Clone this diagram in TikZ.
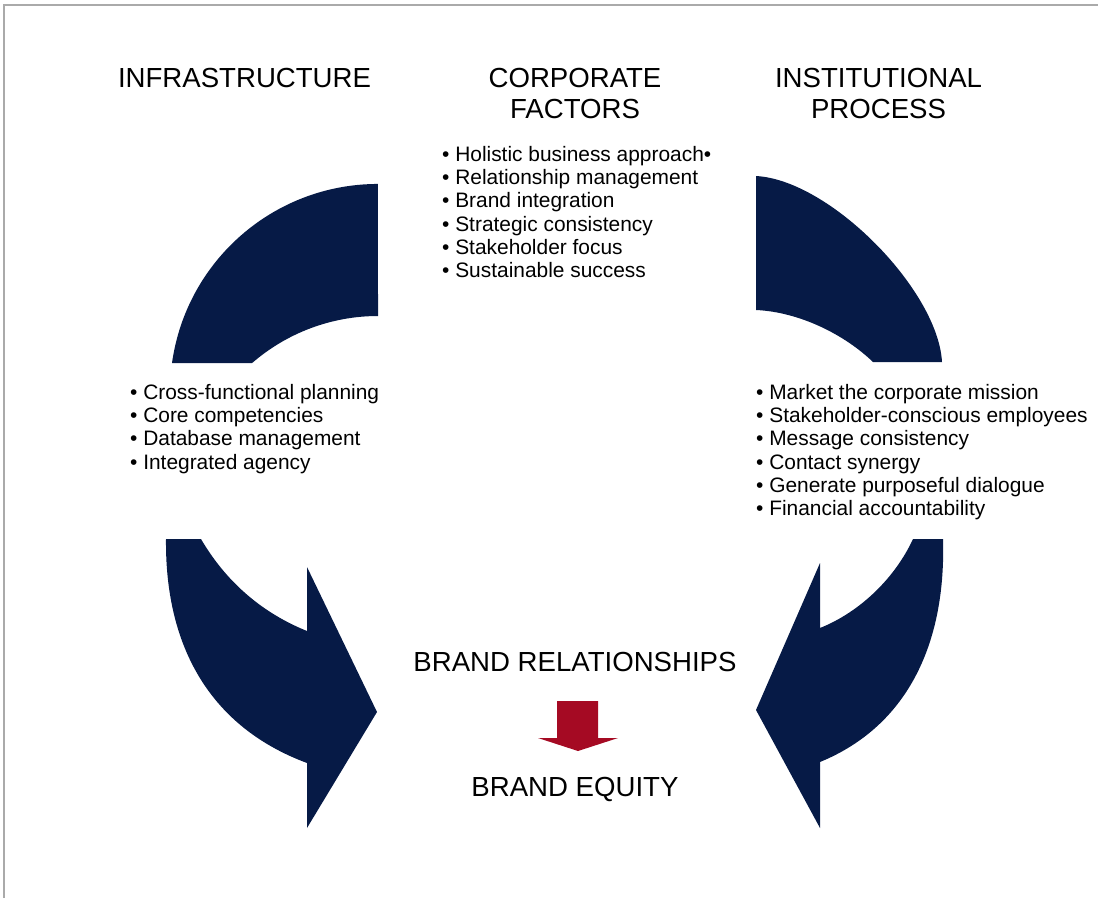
\documentclass[tikz,border=0pt]{standalone}
\usepackage{fontspec}
\setmainfont{Liberation Sans}
\definecolor{navy}{RGB}{6,26,70}
\definecolor{brandred}{RGB}{165,10,35}
\definecolor{framegray}{RGB}{170,170,170}
\begin{document}
\begin{tikzpicture}[x=1pt,y=-1pt,
  band/.style={fill=navy},
  heading/.style={font=\fontsize{27.6}{31}\selectfont, anchor=base, inner sep=0pt},
  bullets/.style={font=\fontsize{20.9}{23.3}\selectfont, align=left, anchor=north west, inner sep=0pt},
]
\useasboundingbox (0,0) rectangle (1098,898);
% frame
\draw[framegray, line width=1.2pt] (4,898) -- (4,5) -- (1098,5);

% upper left band (two circular arcs)
\fill[band] (172,363) arc[start angle=188, end angle=270, radius=208]
  -- (378,316) arc[start angle=270, end angle=229, radius=192] -- cycle;

% upper right band
\fill[band] (756,176) .. controls (830,180) and (938,290) .. (942,362)
  -- (873,362) .. controls (845,335) and (800,312) .. (756,310) -- cycle;

% lower left arrow
\fill[band] (201,539) .. controls (225,580) and (260,612) .. (307,631)
  -- (307,567) -- (377,712) -- (307,828) -- (307,763)
  .. controls (205,725) and (165,640) .. (166,539) -- cycle;

% lower right arrow
\fill[band] (943,539) .. controls (946,640) and (910,725) .. (820,762)
  -- (820,828) -- (756,710) -- (820,563) -- (820,628)
  .. controls (860,612) and (895,578) .. (913,539) -- cycle;

% headings
\node[heading] (infra) at (244.5,87) {INFRASTRUCTURE};
\node[heading] (corp1) at (575,87) {CORPORATE};
\node[heading] (corp2) at (575,118) {FACTORS};
\node[heading] (inst1) at (878.5,87) {INSTITUTIONAL};
\node[heading] (inst2) at (878.5,118) {PROCESS};

% bullet lists
\node[bullets] (corplist) at (442,146) {%
  \textbullet\ Holistic business approach\textbullet\\
  \textbullet\ Relationship management\\
  \textbullet\ Brand integration\\
  \textbullet\ Strategic consistency\\
  \textbullet\ Stakeholder focus\\
  \textbullet\ Sustainable success};
\node[bullets] (infralist) at (130,384) {%
  \textbullet\ Cross-functional planning\\
  \textbullet\ Core competencies\\
  \textbullet\ Database management\\
  \textbullet\ Integrated agency};
\node[bullets] (instlist) at (756,384) {%
  \textbullet\ Market the corporate mission\\
  \textbullet\ Stakeholder-conscious employees\\
  \textbullet\ Message consistency\\
  \textbullet\ Contact synergy\\
  \textbullet\ Generate purposeful dialogue\\
  \textbullet\ Financial accountability};

% outcome
\node[heading] (rel) at (575,671) {BRAND RELATIONSHIPS};
\node[heading] (equity) at (575,796) {BRAND EQUITY};
\fill[brandred] (557,701) -- (598,701) -- (598,738) -- (618,738) -- (578,751)
  -- (538,738) -- (557,738) -- cycle;
\end{tikzpicture}
\end{document}
